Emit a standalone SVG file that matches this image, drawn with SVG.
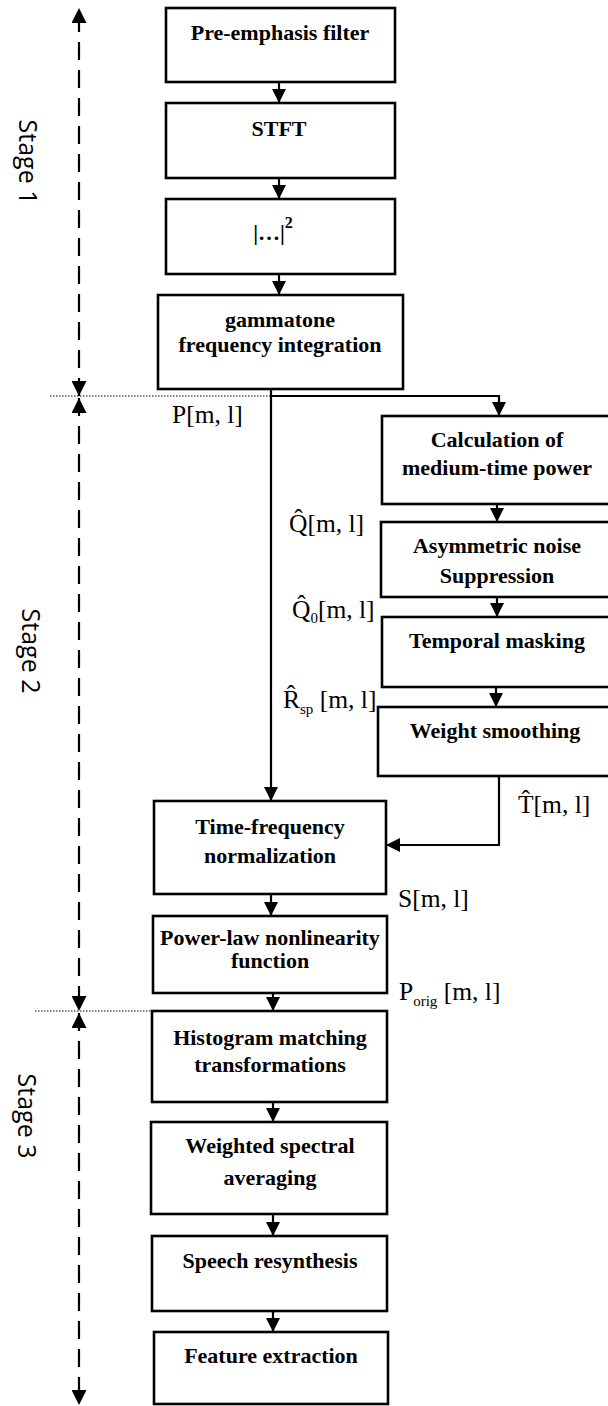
<svg xmlns="http://www.w3.org/2000/svg" width="608" height="1406" viewBox="0 0 608 1406">
<style>
.box{fill:#fff;stroke:#000;stroke-width:2.6}
.t{font-family:"Liberation Serif","Times New Roman",serif;font-weight:bold;font-size:22px;text-anchor:middle;fill:#000}
.lbl{font-family:"Liberation Serif","Times New Roman",serif;font-size:25.5px;fill:#000}
.sub{font-size:15px}
.stage{font-family:"Open Sans","Noto Sans",sans-serif;font-size:25px;text-anchor:middle;fill:#000}
.con{fill:none;stroke:#000;stroke-width:2.2;marker-end:url(#ah)}
.dash{fill:none;stroke:#000;stroke-width:2.2;stroke-dasharray:18 10;marker-start:url(#sh);marker-end:url(#sh)}
.dot{fill:none;stroke:#000;stroke-width:1;stroke-dasharray:1.5 1.5}
</style>
<defs>
<marker id="ah" viewBox="0 0 14 14" refX="14" refY="7" markerWidth="14" markerHeight="14" markerUnits="userSpaceOnUse" orient="auto"><path d="M0,0 L14,7 L0,14 z" fill="#000" stroke="none"/></marker>
<marker id="sh" viewBox="0 0 15 15" refX="15" refY="7.5" markerWidth="15" markerHeight="15" markerUnits="userSpaceOnUse" orient="auto-start-reverse"><path d="M0,0 L15,7.5 L0,15 z" fill="#000" stroke="none"/></marker>
</defs>

<g id="stages">
<path class="dash" d="M79 396 V8"/>
<path class="dash" d="M79 398 V1011"/>
<path class="dash" d="M79 1013 V1405"/>
<path class="dot" d="M50 396 H271"/>
<path class="dot" d="M35 1011 H152"/>
<text class="stage" transform="translate(19,162) rotate(90)">Stage  1</text>
<text class="stage" transform="translate(22,651) rotate(90)">Stage  2</text>
<text class="stage" transform="translate(18,1116) rotate(90)">Stage  3</text>
</g>

<g id="connectors">
<path class="con" d="M279 82 V103"/>
<path class="con" d="M279 178 V199"/>
<path class="con" d="M279 274 V295"/>
<path class="con" d="M271 389 V801"/>
<path class="con" d="M271 396 H499 V416"/>
<path class="con" d="M497 504 V522"/>
<path class="con" d="M497 597 V617"/>
<path class="con" d="M496 687 V707"/>
<path class="con" d="M499 776 V845 H386"/>
<path class="con" d="M271 894 V916"/>
<path class="con" d="M273 993 V1011"/>
<path class="con" d="M273 1102 V1122"/>
<path class="con" d="M273 1214 V1236"/>
<path class="con" d="M273 1311 V1332"/>
</g>

<g id="pre"><rect class="box" x="166" y="8" width="229" height="74"/><text class="t" x="280" y="40" font-size="22.5">Pre-emphasis filter</text></g>
<g id="stft"><rect class="box" x="166" y="103" width="229" height="75"/><text class="t" x="279" y="136">STFT</text></g>
<g id="abs2"><rect class="box" x="166" y="199" width="229" height="75"/><text class="t" x="273" y="240" font-size="25">|…|<tspan font-size="16" dy="-12">2</tspan></text></g>
<g id="gamma"><rect class="box" x="158" y="295" width="245" height="94"/><text class="t" x="280" y="327" font-size="21">gammatone</text><text class="t" x="280" y="352" font-size="21">frequency integration</text></g>
<g id="calc"><rect class="box" x="382" y="416" width="230" height="88"/><text class="t" x="497" y="447">Calculation of</text><text class="t" x="497" y="475">medium-time power</text></g>
<g id="asym"><rect class="box" x="381" y="522" width="231" height="75"/><text class="t" x="497" y="553">Asymmetric noise</text><text class="t" x="497" y="583">Suppression</text></g>
<g id="temporal"><rect class="box" x="382" y="617" width="230" height="70"/><text class="t" x="497" y="648">Temporal masking</text></g>
<g id="weight"><rect class="box" x="378" y="707" width="234" height="69"/><text class="t" x="495" y="738">Weight smoothing</text></g>
<g id="tf"><rect class="box" x="154" y="801" width="232" height="93"/><text class="t" x="270" y="834">Time-frequency</text><text class="t" x="270" y="863">normalization</text></g>
<g id="power"><rect class="box" x="153" y="916" width="234" height="77"/><text class="t" x="270" y="945" font-size="18.5">Power-law nonlinearity</text><text class="t" x="270" y="968" font-size="18.5">function</text></g>
<g id="hist"><rect class="box" x="152" y="1011" width="235" height="91"/><text class="t" x="270" y="1045">Histogram matching</text><text class="t" x="270" y="1072">transformations</text></g>
<g id="weighted"><rect class="box" x="151" y="1122" width="236" height="92"/><text class="t" x="270" y="1153">Weighted spectral</text><text class="t" x="270" y="1185">averaging</text></g>
<g id="speech"><rect class="box" x="152" y="1236" width="235" height="75"/><text class="t" x="270" y="1268">Speech resynthesis</text></g>
<g id="feature"><rect class="box" x="154" y="1332" width="234" height="72"/><text class="t" x="271" y="1363">Feature extraction</text></g>

<g id="labels">
<text class="lbl" x="172" y="423">P[m, l]</text>
<text class="lbl" x="289" y="532">Q&#x302;[m, l]</text>
<text class="lbl" x="292" y="618">Q&#x302;<tspan class="sub" dy="5">0</tspan><tspan dy="-5">[m, l]</tspan></text>
<text class="lbl" x="283" y="708">R&#x302;<tspan class="sub" dy="6">sp</tspan><tspan dy="-6"> [m, l]</tspan></text>
<text class="lbl" x="518" y="813">T&#x302;[m, l]</text>
<text class="lbl" x="398" y="907">S[m, l]</text>
<text class="lbl" x="399" y="1000">P<tspan class="sub" dy="6">orig</tspan><tspan dy="-6"> [m, l]</tspan></text>
</g>
</svg>
